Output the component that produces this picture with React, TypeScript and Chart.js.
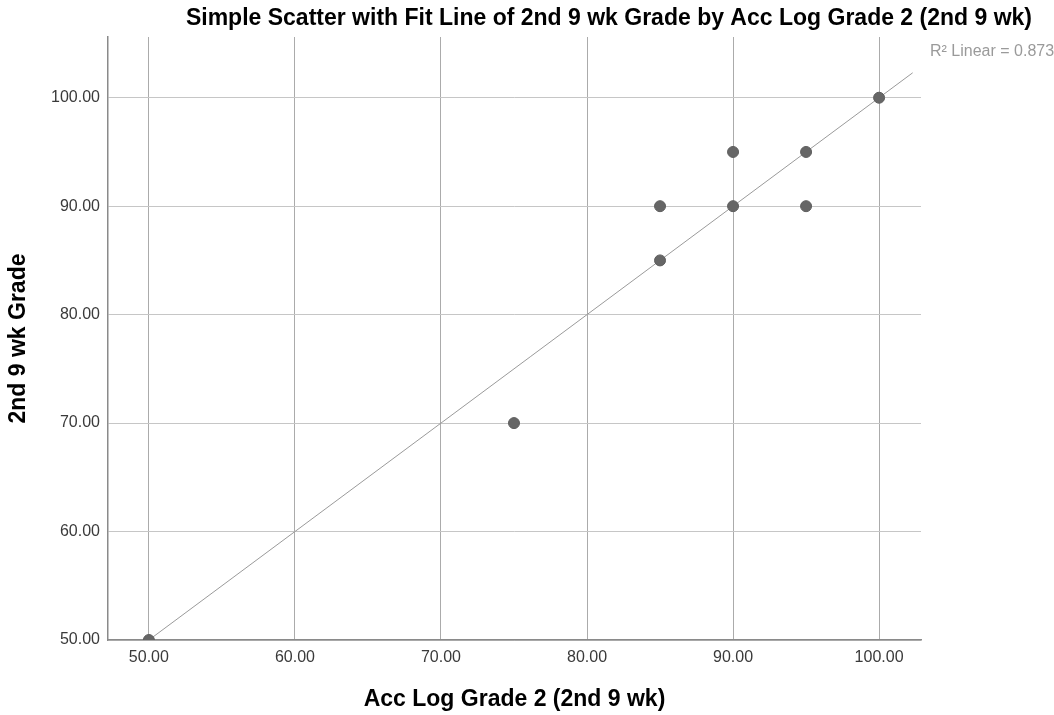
import React, { useEffect, useRef } from "react";
import { Chart, registerables } from "chart.js";

Chart.register(...registerables);

const chartTitle = "Simple Scatter with Fit Line of 2nd 9 wk Grade by Acc Log Grade 2 (2nd 9 wk)";
const xAxisTitle = "Acc Log Grade 2 (2nd 9 wk)";
const yAxisTitle = "2nd 9 wk Grade";
const fitLabel = "R² Linear = 0.873";

const accLogGrade = [50, 75, 85, 85, 90, 90, 95, 95, 100];
const secondNineWkGrade = [50, 70, 85, 90, 90, 95, 95, 90, 100];

const fitX = [50, 102.3];
const fitY = [50, 102.3];

const xTicks = [50, 60, 70, 80, 90, 100];
const yTicks = [50, 60, 70, 80, 90, 100];

const FONT = '"Liberation Sans", Arial, sans-serif';

const textPlugin = {
  id: "spssText",
  afterDraw(chart: any) {
    const ctx = chart.ctx;
    ctx.save();
    ctx.fillStyle = "#000";
    ctx.font = `bold 23px ${FONT}`;
    ctx.textAlign = "right";
    ctx.textBaseline = "middle";
    ctx.fillText(chartTitle, 1032, 19);
    ctx.fillStyle = "#9a9a9a";
    ctx.font = `16px ${FONT}`;
    ctx.textAlign = "left";
    ctx.fillText(fitLabel, chart.chartArea.right + 9, 52);
    ctx.restore();
  },
};

export default function App() {
  const ref = useRef<HTMLCanvasElement | null>(null);

  useEffect(() => {
    if (!ref.current) return;
    const chart = new Chart(ref.current, {
      type: "scatter",
      data: {
        datasets: [
          {
            type: "line",
            label: "Fit",
            data: fitX.map((x, i) => ({ x, y: fitY[i] })),
            borderColor: "#9a9a9a",
            borderWidth: 1,
            pointRadius: 0,
            fill: false,
            order: 2,
          } as any,
          {
            label: "Grades",
            data: accLogGrade.map((x, i) => ({ x, y: secondNineWkGrade[i] })),
            backgroundColor: "#666666",
            borderColor: "#5e5e5e",
            borderWidth: 1,
            pointRadius: 5.5,
            order: 1,
          },
        ],
      },
      options: {
        animation: false,
        responsive: true,
        maintainAspectRatio: false,
        layout: { padding: { top: 37, right: 133, bottom: 0, left: 0 } },
        plugins: {
          legend: { display: false },
          title: { display: false },
          tooltip: { enabled: false },
        },
        scales: {
          x: {
            type: "linear",
            min: 47.2,
            max: 102.87,
            afterBuildTicks: (s: any) => {
              s.ticks = xTicks.map((v) => ({ value: v }));
            },
            afterFit: (s: any) => {
              s.height = 75;
            },
            grid: { color: "#ababab", lineWidth: 1, drawTicks: false },
            border: { color: "#8a8a8a", width: 1.5 },
            ticks: {
              padding: 8,
              color: "#3a3a3a",
              font: { family: FONT, size: 16 },
              callback: (v: any) => Number(v).toFixed(2),
            },
            title: {
              display: true,
              text: xAxisTitle,
              color: "#000",
              font: { family: FONT, size: 23, weight: "bold" },
              padding: { top: 0, bottom: 2 },
            },
          },
          y: {
            type: "linear",
            min: 50,
            max: 105.6,
            afterBuildTicks: (s: any) => {
              s.ticks = yTicks.map((v) => ({ value: v }));
            },
            afterFit: (s: any) => {
              s.width = 108;
            },
            grid: { color: "#c6c6c6", lineWidth: 1, drawTicks: false },
            border: { color: "#8a8a8a", width: 1.5 },
            ticks: {
              padding: 8,
              color: "#3a3a3a",
              font: { family: FONT, size: 16 },
              callback: (v: any) => Number(v).toFixed(2),
            },
            title: {
              display: true,
              text: yAxisTitle,
              color: "#000",
              font: { family: FONT, size: 23, weight: "bold" },
              padding: { top: 5, bottom: 0 },
            },
          },
        },
      },
      plugins: [textPlugin],
    });
    return () => chart.destroy();
  }, []);

  return (
    <div style={{ position: "absolute", left: 0, top: 0, width: 1054, height: 715 }}>
      <canvas ref={ref} />
    </div>
  );
}
